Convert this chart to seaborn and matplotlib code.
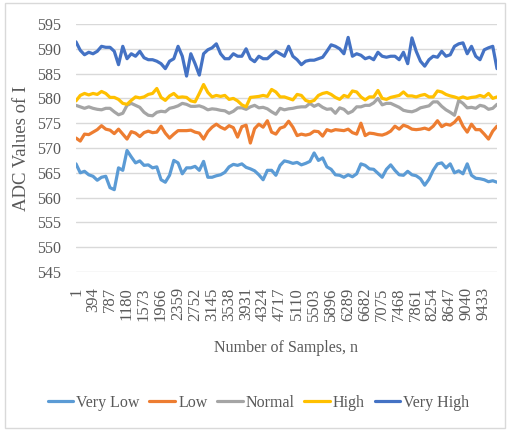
import numpy as np
import pandas as pd
import matplotlib
matplotlib.use("Agg")
import matplotlib.pyplot as plt
import seaborn as sns
from matplotlib.lines import Line2D
from matplotlib.patches import Rectangle

# ---------------- data ----------------
series_names = ["Very Low", "Low", "Normal", "High", "Very High"]
n_total = 9740
tick_labels = [str(1 + 393 * k) for k in range(25)]

very_low = [566.8, 565.0, 565.3, 564.6, 564.3, 563.5, 564.1, 564.3, 562.0, 561.6,
            566.0, 565.5, 569.5, 568.2, 567.0, 567.4, 566.5, 566.6, 566.0, 566.2,
            563.6, 563.1, 564.5, 567.5, 567.0, 564.8, 566.0, 566.0, 566.3, 565.5,
            567.3, 564.1, 564.1, 564.4, 564.6, 565.1, 566.2, 566.7, 566.5, 566.8,
            566.1, 565.8, 565.4, 564.6, 563.6, 565.5, 565.5, 564.5, 566.5, 567.4,
            567.2, 566.9, 567.1, 566.6, 566.9, 567.3, 569.0, 567.5, 568.0, 566.2,
            565.7, 564.6, 564.5, 564.1, 564.6, 564.2, 564.8, 566.8, 566.5, 565.8,
            565.7, 564.9, 564.1, 565.7, 566.6, 565.5, 564.6, 564.5, 565.3, 564.6,
            564.4, 563.8, 562.5, 563.7, 565.5, 566.8, 567.0, 566.0, 566.8, 565.0,
            565.4, 564.8, 566.8, 564.5, 563.9, 563.8, 563.6, 563.2, 563.4, 563.1]

low = [572.0, 571.4, 572.8, 572.7, 573.2, 573.7, 574.5, 573.8, 573.6, 572.9,
       573.8, 572.8, 571.8, 573.3, 573.0, 572.3, 573.1, 573.4, 573.1, 573.2,
       574.4, 573.0, 572.0, 572.8, 573.5, 573.5, 573.5, 573.6, 573.2, 573.0,
       571.8, 573.3, 574.2, 574.8, 574.2, 573.8, 574.5, 574.1, 572.2, 574.3,
       574.6, 571.0, 573.9, 574.8, 574.2, 575.5, 573.2, 572.8, 574.0, 574.3,
       575.4, 574.2, 572.5, 572.8, 572.6, 572.8, 573.4, 573.3, 572.4, 573.7,
       573.4, 573.7, 573.6, 573.5, 573.8, 573.1, 572.8, 575.0, 572.5, 573.0,
       572.9, 572.7, 572.6, 572.9, 573.4, 574.4, 573.8, 574.6, 574.3, 573.8,
       573.7, 573.8, 574.0, 573.7, 574.4, 575.5, 574.3, 574.8, 574.6, 575.2,
       576.2, 574.4, 573.2, 574.8, 573.7, 573.7, 572.8, 571.8, 573.4, 574.4]

normal = [578.6, 578.3, 578.0, 578.3, 578.0, 577.8, 577.7, 578.0, 578.0, 577.3,
          576.7, 577.0, 578.6, 579.0, 578.6, 578.2, 577.2, 576.6, 576.5, 577.2,
          577.4, 577.3, 578.0, 578.2, 578.5, 579.0, 578.8, 578.4, 578.4, 578.5,
          578.2, 577.7, 577.9, 577.8, 577.6, 577.5, 577.0, 577.4, 578.1, 578.1,
          577.8, 578.3, 578.6, 578.1, 578.2, 577.9, 577.3, 576.8, 578.0, 577.7,
          577.9, 578.0, 578.2, 578.3, 578.3, 579.0, 578.4, 578.8, 578.2, 577.8,
          577.9, 577.0, 578.1, 577.8, 577.0, 577.4, 578.3, 578.3, 578.6, 578.6,
          579.1, 580.0, 578.7, 579.0, 579.0, 578.6, 578.2, 577.6, 577.4, 577.3,
          577.6, 578.1, 578.3, 578.5, 579.3, 579.3, 578.4, 577.7, 577.2, 576.6,
          579.6, 579.0, 578.1, 578.2, 578.0, 578.6, 578.4, 577.8, 578.0, 578.8]

high = [579.5, 580.6, 581.0, 580.7, 581.0, 580.8, 581.4, 581.0, 580.2, 580.2,
        579.8, 579.0, 578.8, 579.6, 580.3, 580.1, 580.3, 580.8, 581.0, 582.0,
        580.2, 579.6, 580.5, 581.0, 580.2, 580.3, 580.2, 579.5, 579.3, 581.0,
        582.8, 581.2, 580.3, 580.6, 580.4, 580.6, 579.8, 580.0, 579.5, 578.7,
        578.3, 580.2, 580.3, 580.4, 580.6, 580.4, 581.8, 581.3, 580.3, 580.3,
        580.0, 579.7, 580.8, 580.6, 579.6, 579.3, 579.6, 580.6, 581.0, 581.2,
        580.8, 580.2, 579.8, 580.6, 580.3, 581.5, 581.3, 580.3, 579.7, 580.3,
        580.3, 581.6, 580.0, 579.8, 580.2, 580.4, 580.6, 581.3, 580.5, 580.5,
        580.3, 580.6, 580.8, 580.3, 580.3, 581.5, 581.3, 580.8, 580.5, 580.3,
        580.0, 580.3, 580.0, 580.2, 580.3, 580.6, 580.3, 581.0, 580.0, 580.3]

very_high = [591.4, 589.7, 588.8, 589.3, 589.0, 589.5, 590.5, 590.3, 590.3, 589.5,
             586.8, 590.5, 588.0, 589.0, 588.5, 589.5, 588.2, 587.8, 587.8, 587.5,
             587.0, 586.0, 587.5, 588.0, 590.5, 588.5, 584.5, 589.0, 587.0, 584.7,
             589.0, 589.8, 590.2, 591.0, 589.0, 588.0, 588.0, 589.0, 588.5, 588.5,
             590.0, 588.0, 587.4, 588.5, 588.0, 588.0, 588.8, 589.5, 589.0, 588.5,
             590.5, 588.5, 587.8, 586.8, 587.5, 587.7, 587.7, 588.0, 588.3, 589.5,
             590.8, 590.5, 590.0, 589.0, 592.3, 588.5, 589.0, 588.7, 588.0, 588.3,
             587.8, 589.3, 588.5, 588.3, 588.5, 588.5, 587.8, 589.3, 587.0, 592.2,
             589.5, 587.5, 586.5, 587.8, 588.5, 588.3, 589.5, 588.5, 588.8, 590.5,
             591.0, 591.2, 589.0, 590.5, 588.5, 587.8, 589.8, 590.2, 590.5, 586.0]

colors = ["#5B9BD5", "#ED7D31", "#A5A5A5", "#FFC000", "#4472C4"]

samples = np.linspace(1, n_total, len(very_low))
df = pd.DataFrame({"n": samples, "Very Low": very_low, "Low": low,
                   "Normal": normal, "High": high, "Very High": very_high})
long = df.melt(id_vars="n", var_name="level", value_name="adc")

# ---------------- figure ----------------
sns.set_theme(style="white")
plt.rcParams["font.family"] = ["Liberation Serif", "DejaVu Serif"]
text_col = "#595959"

fig = plt.figure(figsize=(5.07, 4.30), dpi=100)
ax = fig.add_axes([76 / 507, 1 - 272 / 430, (497 - 76) / 507, (272 - 24) / 430])

sns.lineplot(data=long, x="n", y="adc", hue="level", hue_order=series_names,
             palette=colors, linewidth=2.3, ax=ax, legend=False)

ax.set_xlim(1, n_total)
ax.set_ylim(545, 595)
ax.set_yticks(np.arange(545, 596, 5))
ax.set_xticks([1 + 393 * k for k in range(25)])
ax.set_xticklabels(tick_labels, rotation=90, va="top", ha="center")
ax.grid(axis="y", color="#d9d9d9", linewidth=1.0)
ax.grid(axis="x", visible=False)
for s in ax.spines.values():
    s.set_visible(False)
ax.tick_params(axis="y", length=0, pad=11, labelsize=11.5, labelcolor=text_col)
ax.tick_params(axis="x", length=0, pad=11, labelsize=12, labelcolor=text_col)
ax.set_xlabel("Number of Samples, n", fontsize=11.5, color=text_col, labelpad=14)
ax.set_ylabel("ADC Values of I", fontsize=13.5, color=text_col, labelpad=5)
ax.set_axisbelow(True)

handles = [Line2D([0], [0], color=c, linewidth=2.3) for c in colors]
fig.legend(handles, series_names, loc="center", bbox_to_anchor=(0.51, 1 - 403 / 430),
           ncol=5, frameon=False, fontsize=11.5, handlelength=1.6,
           handletextpad=0.2, columnspacing=0.6, labelcolor=text_col)

fig.patches.append(Rectangle((5 / 507, 2 / 430), 500 / 507, 425 / 430,
                             transform=fig.transFigure, fill=False,
                             edgecolor="#d9d9d9", linewidth=1.0))

fig.savefig("out.png", dpi=100)
